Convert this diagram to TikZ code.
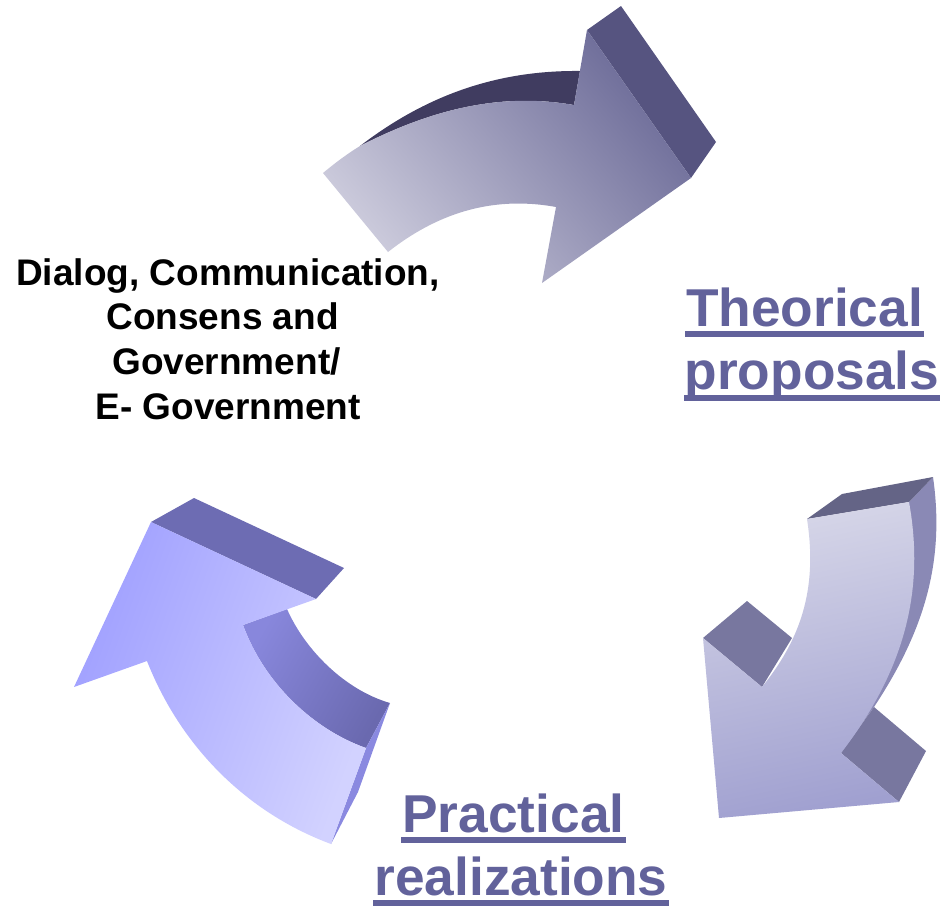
\documentclass[tikz,border=0pt]{standalone}
\usepackage{fontspec}
\setmainfont{Liberation Sans}
\definecolor{heading}{HTML}{62629B}
\tikzset{
  bigtext/.style={font=\fontsize{53.3}{64}\selectfont\bfseries, text=heading, inner sep=0pt, anchor=base},
  blacktext/.style={font=\fontsize{37}{44.6}\selectfont\bfseries, text=black, inner sep=0pt, align=center},
}
\newcommand{\ulword}[1]{\setbox0=\hbox{#1}\rlap{\kern-1pt\rule[-11pt]{\dimexpr\wd0+2pt\relax}{5.7pt}}\box0 }
\begin{document}
\begin{tikzpicture}[x=1pt,y=-1pt]
\useasboundingbox (0,0) rectangle (943,906);
% --- top arrow
\fill[color={rgb,255:red,64;green,60;blue,96}] (360,146) .. controls (420,100) and (490,70) .. (580,71) -- (574,105) .. controls (500,92) and (430,110) .. (360,146) -- cycle;
\fill[color={rgb,255:red,86;green,84;blue,128}] (587,30) -- (621,6) -- (716,142) -- (691,178) -- cycle;
\shade[left color={rgb,255:red,204;green,203;blue,220},right color={rgb,255:red,108;green,107;blue,152},shading angle=130]
 (323,173) .. controls (335,163) and (347,154) .. (360,146) .. controls (430,110) and (500,92) .. (574,105) -- (587,30) -- (691,178) -- (542,283) -- (556,207) .. controls (490,195) and (435,215) .. (388,252) -- cycle;
% --- right arrow
\fill[color={rgb,255:red,138;green,137;blue,181}] (909,502) -- (933,477) .. controls (945,560) and (925,630) .. (874,707) -- (841,753) -- cycle;
\fill[color={rgb,255:red,100;green,100;blue,134}] (807,519) -- (842,494) -- (933,477) -- (909,502) -- cycle;
\fill[color={rgb,255:red,120;green,119;blue,159}] (703,638) -- (747,601) -- (792,638) -- (762,687) -- cycle;
\fill[color={rgb,255:red,120;green,119;blue,159}] (874,707) -- (926,751) -- (899,802) -- (841,753) -- cycle;
\shade[top color={rgb,255:red,214;green,214;blue,232},bottom color={rgb,255:red,160;green,160;blue,208},shading angle=12]
 (807,519) -- (909,502) .. controls (925,590) and (905,670) .. (841,753) -- (899,802) -- (719,818) -- (703,638) -- (762,687) .. controls (800,640) and (818,590) .. (807,519) -- cycle;
% --- left arrow
\fill[color={rgb,255:red,109;green,108;blue,179}] (151,522) -- (194,498) -- (344,568) -- (316,599) -- cycle;
\shade[left color={rgb,255:red,136;green,135;blue,220},right color={rgb,255:red,106;green,105;blue,175},shading angle=60]
 (287,609) -- (243,625) .. controls (265,685) and (315,730) .. (366,748) -- (390,703) .. controls (345,690) and (305,650) .. (287,609) -- cycle;
\fill[color={rgb,255:red,138;green,137;blue,224}] (366,748) -- (390,703) -- (358,792) -- (331,844) -- cycle;
\shade[left color={rgb,255:red,160;green,160;blue,255},right color={rgb,255:red,210;green,210;blue,255},shading angle=70]
 (151,522) -- (316,599) -- (243,625) .. controls (265,685) and (315,730) .. (366,748) -- (331,844) .. controls (245,812) and (180,745) .. (147,661) -- (74,687) -- cycle;
% --- texts
\node[blacktext] (dialog) at (228,339) {Dialog, Communication,\\Consens and\kern11pt\\Government/\kern3pt\\E- Government};
\node[bigtext] (t1) at (804.5,326) {\ulword{Theorical}};
\node[bigtext] (t2) at (812,389.5) {\ulword{proposals}};
\node[bigtext] (p1) at (513.5,832) {\ulword{Practical}};
\node[bigtext] (p2) at (521,895) {\ulword{realizations}};
\end{tikzpicture}
\end{document}
